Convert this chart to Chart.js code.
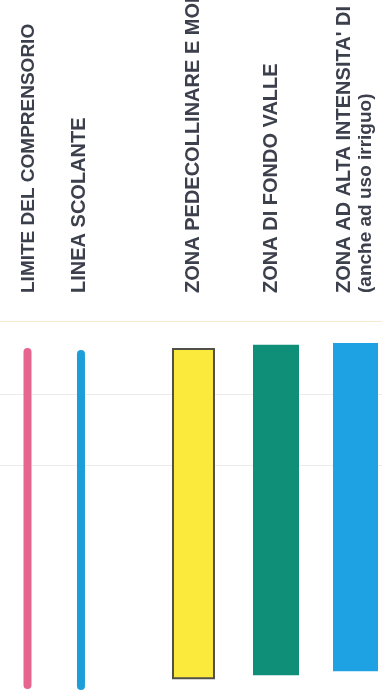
<!DOCTYPE html>
<html>
<head>
<meta charset="utf-8">
<script src="https://cdn.jsdelivr.net/npm/chart.js@4/dist/chart.umd.min.js"></script>
<style>
  html, body { margin: 0; padding: 0; background: #ffffff; }
  #wrap { width: 382px; height: 697px; position: relative; }
</style>
</head>
<body>
<div id="wrap"><canvas id="c"></canvas></div>
<script>
// Legend items (scanned map legend, rotated)
const categories = [
  'LIMITE DEL COMPRENSORIO',
  'LINEA SCOLANTE',
  'ZONA PEDECOLLINARE E MONTANA',
  'ZONA DI FONDO VALLE',
  "ZONA AD ALTA INTENSITA' DI BONIFICA"
];
const subLabel = '(anche ad uso irriguo)';
// position of each legend sample along the horizontal axis (0-100)
const sampleSlot = [7.2, 21.2, 50.65, 72.25, 93.06];
// extent of each sample along the vertical axis (0-100)
const sampleStart = [3.0, 2.8, 4.5, 5.5, 6.5];
const sampleEnd = [86.9, 86.4, 87.9, 88.7, 89.2];
// label positions along the horizontal axis (0-100)
const labelSlot = [7.2, 20.68, 50.52, 70.94, 90.05, 95.55];
const labelTexts = categories.concat([subLabel]);
// faint guide lines (vertical axis values)
const guideLines = [94.7, 76.3, 58.2];

const colors = ['#e6668f', '#1c9fd8', '#fbe93c', '#0f8f77', '#1ea2e4'];
const widths = [8, 8, 39, 46, 45];
const caps = ['round', 'round', 'butt', 'butt', 'butt'];
const fontSizes = [19, 20, 20, 20, 20, 19];

function seg(i, pad) {
  return [
    { x: sampleSlot[i], y: sampleStart[i] - pad },
    { x: sampleSlot[i], y: sampleEnd[i] + pad }
  ];
}

const datasets = [];
// dark outline for the yellow swatch
datasets.push({
  data: seg(2, 0), borderColor: '#4f5148', borderWidth: 43,
  borderCapStyle: 'butt', pointRadius: 0, showLine: true, order: 10
});
for (let i = 0; i < categories.length; i++) {
  datasets.push({
    label: categories[i],
    data: seg(i, i === 2 ? -0.5 : 0),
    borderColor: colors[i],
    backgroundColor: colors[i],
    borderWidth: widths[i],
    borderCapStyle: caps[i],
    pointRadius: 0,
    showLine: true,
    order: 1
  });
}

new Chart(document.getElementById('c'), {
  type: 'scatter',
  data: { datasets },
  options: {
    responsive: true,
    maintainAspectRatio: false,
    animation: false,
    layout: { padding: 0 },
    plugins: { legend: { display: false }, tooltip: { enabled: false } },
    scales: {
      x: {
        type: 'linear',
        position: 'top',
        min: 0, max: 100,
        border: { display: false },
        grid: { display: false, drawTicks: false },
        afterBuildTicks: (s) => { s.ticks = labelSlot.map(v => ({ value: v })); },
        afterFit: (s) => { s.height = 300; s.paddingLeft = 0; s.paddingRight = 0; },
        ticks: {
          autoSkip: false,
          minRotation: 90,
          maxRotation: 90,
          padding: 7,
          labelOffset: 24,
          color: '#3b404c',
          font: (ctx) => ({ family: 'Liberation Sans, Arial, sans-serif', size: fontSizes[ctx.index] || 20, weight: 'bold' }),
          callback: (v, i) => labelTexts[i]
        }
      },
      y: {
        type: 'linear',
        min: 0, max: 100,
        display: true,
        border: { display: false },
        afterBuildTicks: (s) => { s.ticks = guideLines.map(v => ({ value: v })); },
        afterFit: (s) => { s.width = 0; },
        ticks: { display: false },
        grid: {
          drawTicks: false,
          lineWidth: 1,
          color: (ctx) => ctx.index === 0 ? '#f6ead0' : '#ececec'
        }
      }
    }
  }
});
</script>
</body>
</html>
